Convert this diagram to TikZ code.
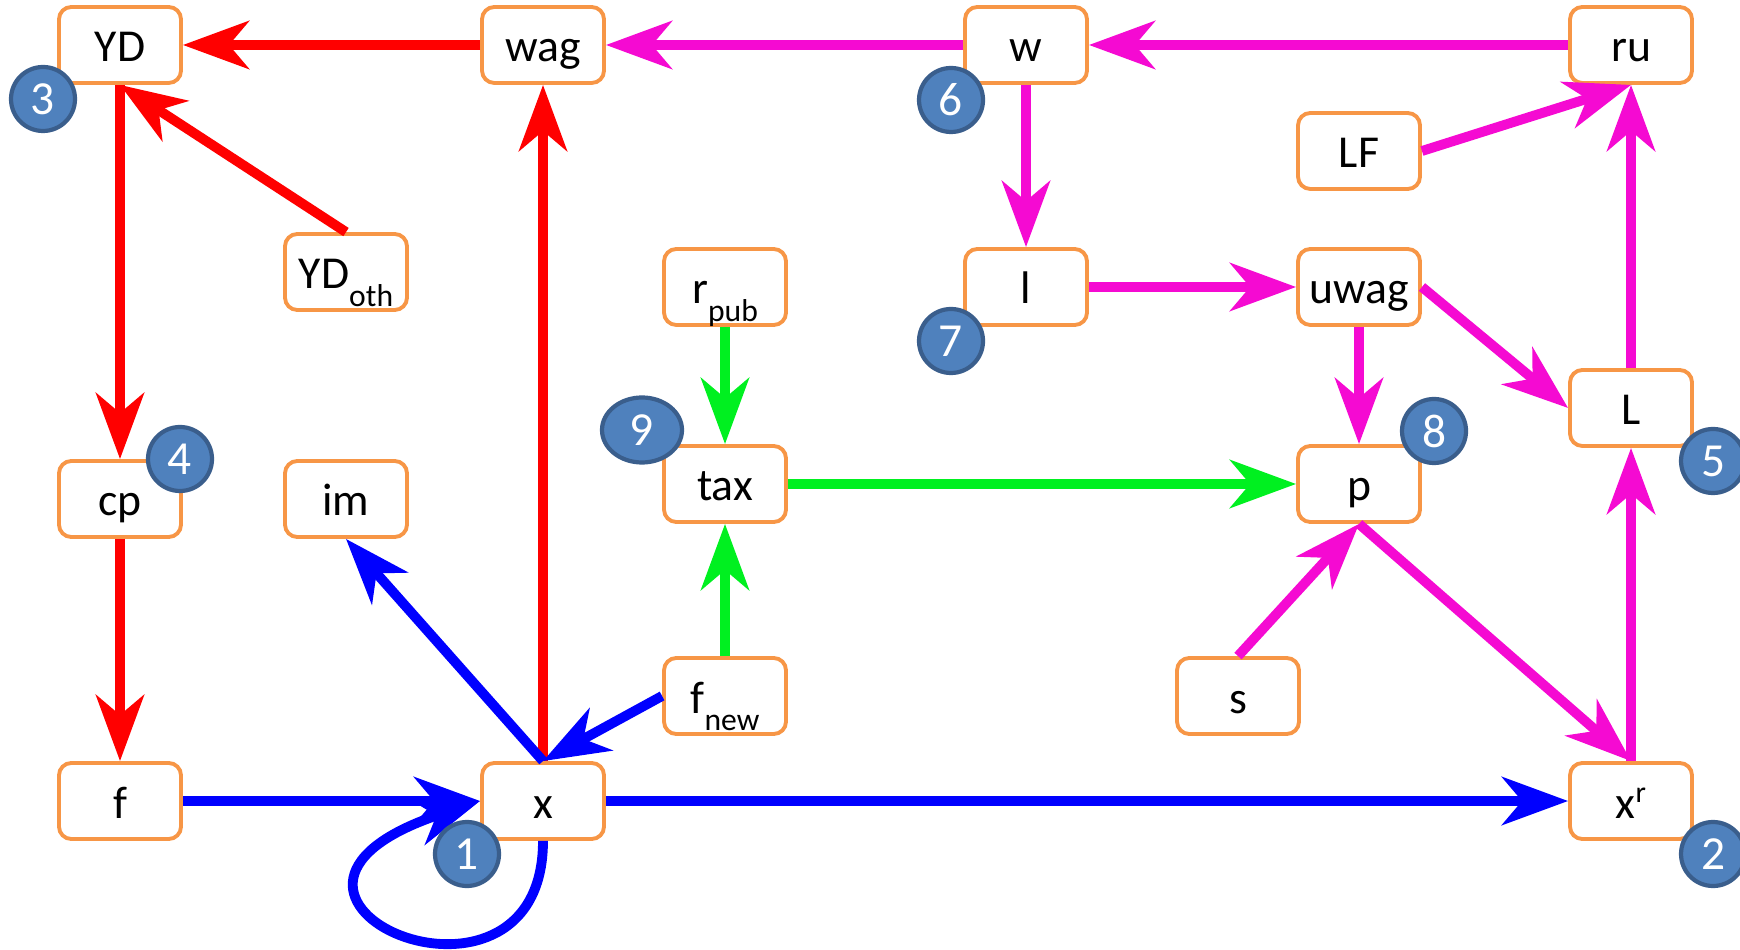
\documentclass[tikz,border=0pt]{standalone}
\usepackage{fontspec}
\setmainfont{Carlito}
\usepackage{tikz}
\usetikzlibrary{arrows.meta}
\usetikzlibrary{shapes.geometric}
\definecolor{boxorange}{HTML}{F79646}
\definecolor{badgefill}{HTML}{4F81BD}
\definecolor{badgeedge}{HTML}{3A5E8C}
\definecolor{linkred}{HTML}{FF0000}
\definecolor{linkblue}{HTML}{0000FF}
\definecolor{linkgreen}{HTML}{00F020}
\definecolor{linkmag}{HTML}{F50AD2}
\newcommand{\lo}[1]{\raisebox{-1.75mm}{\fontsize{9}{10}\selectfont #1}}
\newcommand{\hi}[1]{\raisebox{1.6mm}{\fontsize{8.5}{10}\selectfont #1}}
\tikzstyle{var}=[draw=boxorange, line width=1.1pt, rounded corners=3.5pt, fill=white,
                 minimum width=12.2mm, minimum height=7.6mm, inner sep=0,
                 text height=3.9mm, text depth=0.5mm, font=\fontsize{13}{15}\selectfont]
\tikzstyle{badge}=[circle, draw=badgeedge, line width=1.2pt, fill=badgefill, text=white,
                   minimum size=6.4mm, inner sep=0, font=\fontsize{13.5}{15}\selectfont]
\tikzstyle{obadge}=[badge, ellipse, minimum width=8mm, minimum height=6.5mm]
\tikzstyle{link}=[line width=2.8pt, -{Stealth[length=6.6mm, width=4.8mm, inset=2mm]}]
\tikzstyle{diagram}=[x=0.1mm, y=-0.1mm]

\begin{document}
\begin{tikzpicture}[diagram]
  \useasboundingbox (0,0) rectangle (1740,950);
  % top row
  \node[var] (YD)   at (120,45)  {YD};
  \node[var] (wag)  at (543,45)  {wag};
  \node[var] (w)    at (1026,45) {w};
  \node[var] (ru)   at (1631,45) {ru};
  \node[var] (LF)   at (1359,151) {LF};
  % middle rows
  \node[var] (YDoth) at (346,272) {YD\lo{oth}};
  \node[var] (rpub)  at (725,287) {r\lo{pub}};
  \node[var] (l)     at (1026,287) {l};
  \node[var] (uwag)  at (1359,287) {uwag};
  \node[var] (L)     at (1631,408) {L};
  \node[var] (cp)    at (120,499) {cp};
  \node[var] (im)    at (346,499) {im};
  \node[var] (tax)   at (725,484) {tax};
  \node[var] (p)     at (1359,484) {p};
  \node[var] (fnew)  at (725,696) {f\lo{new}};
  \node[var] (s)     at (1238,696) {s};
  % bottom row
  \node[var] (f)     at (120,801) {f};
  \node[var] (x)     at (543,801) {x};
  \node[var] (xr)    at (1631,801) {x\hi{r}};

  % red links
  \draw[link, linkred] (wag) -- (YD);
  \draw[link, linkred] (YDoth.north) -- (YD.south);
  \draw[link, linkred] (YD) -- (cp);
  \draw[link, linkred] (cp) -- (f);
  \draw[link, linkred] (x) -- (wag);
  % blue links
  \draw[link, linkblue] (f) -- (x);
  \draw[link, linkblue] (x) -- (xr);
  \draw[link, linkblue] (x.north) -- (im.south);
  \draw[link, linkblue] (fnew.west) -- (x.north);
  \draw[link, linkblue] (x.south) .. controls +(0,205) and +(-285,95) .. (x.west);
  % green links
  \draw[link, linkgreen] (rpub) -- (tax);
  \draw[link, linkgreen] (fnew) -- (tax);
  \draw[link, linkgreen] (tax) -- (p);
  % magenta links
  \draw[link, linkmag] (w) -- (wag);
  \draw[link, linkmag] (ru) -- (w);
  \draw[link, linkmag] (LF.east) -- (ru.south);
  \draw[link, linkmag] (w) -- (l);
  \draw[link, linkmag] (l) -- (uwag);
  \draw[link, linkmag] (uwag.east) -- (L.west);
  \draw[link, linkmag] (uwag) -- (p);
  \draw[link, linkmag] (L) -- (ru);
  \draw[link, linkmag] (xr) -- (L);
  \draw[link, linkmag] (p.south) -- (xr.north);
  \draw[link, linkmag] (s.north) -- (p.south);

  % numbers
  \node[badge]  (n1) at (467,854)  {1};
  \node[badge]  (n2) at (1713,854) {2};
  \node[badge]  (n3) at (43,99)    {3};
  \node[badge]  (n4) at (180,459)  {4};
  \node[badge]  (n5) at (1713,461) {5};
  \node[badge]  (n6) at (951,100)  {6};
  \node[badge]  (n7) at (951,341)  {7};
  \node[badge]  (n8) at (1434,431) {8};
  \node[obadge] (n9) at (642,430)  {9};
\end{tikzpicture}
\end{document}
